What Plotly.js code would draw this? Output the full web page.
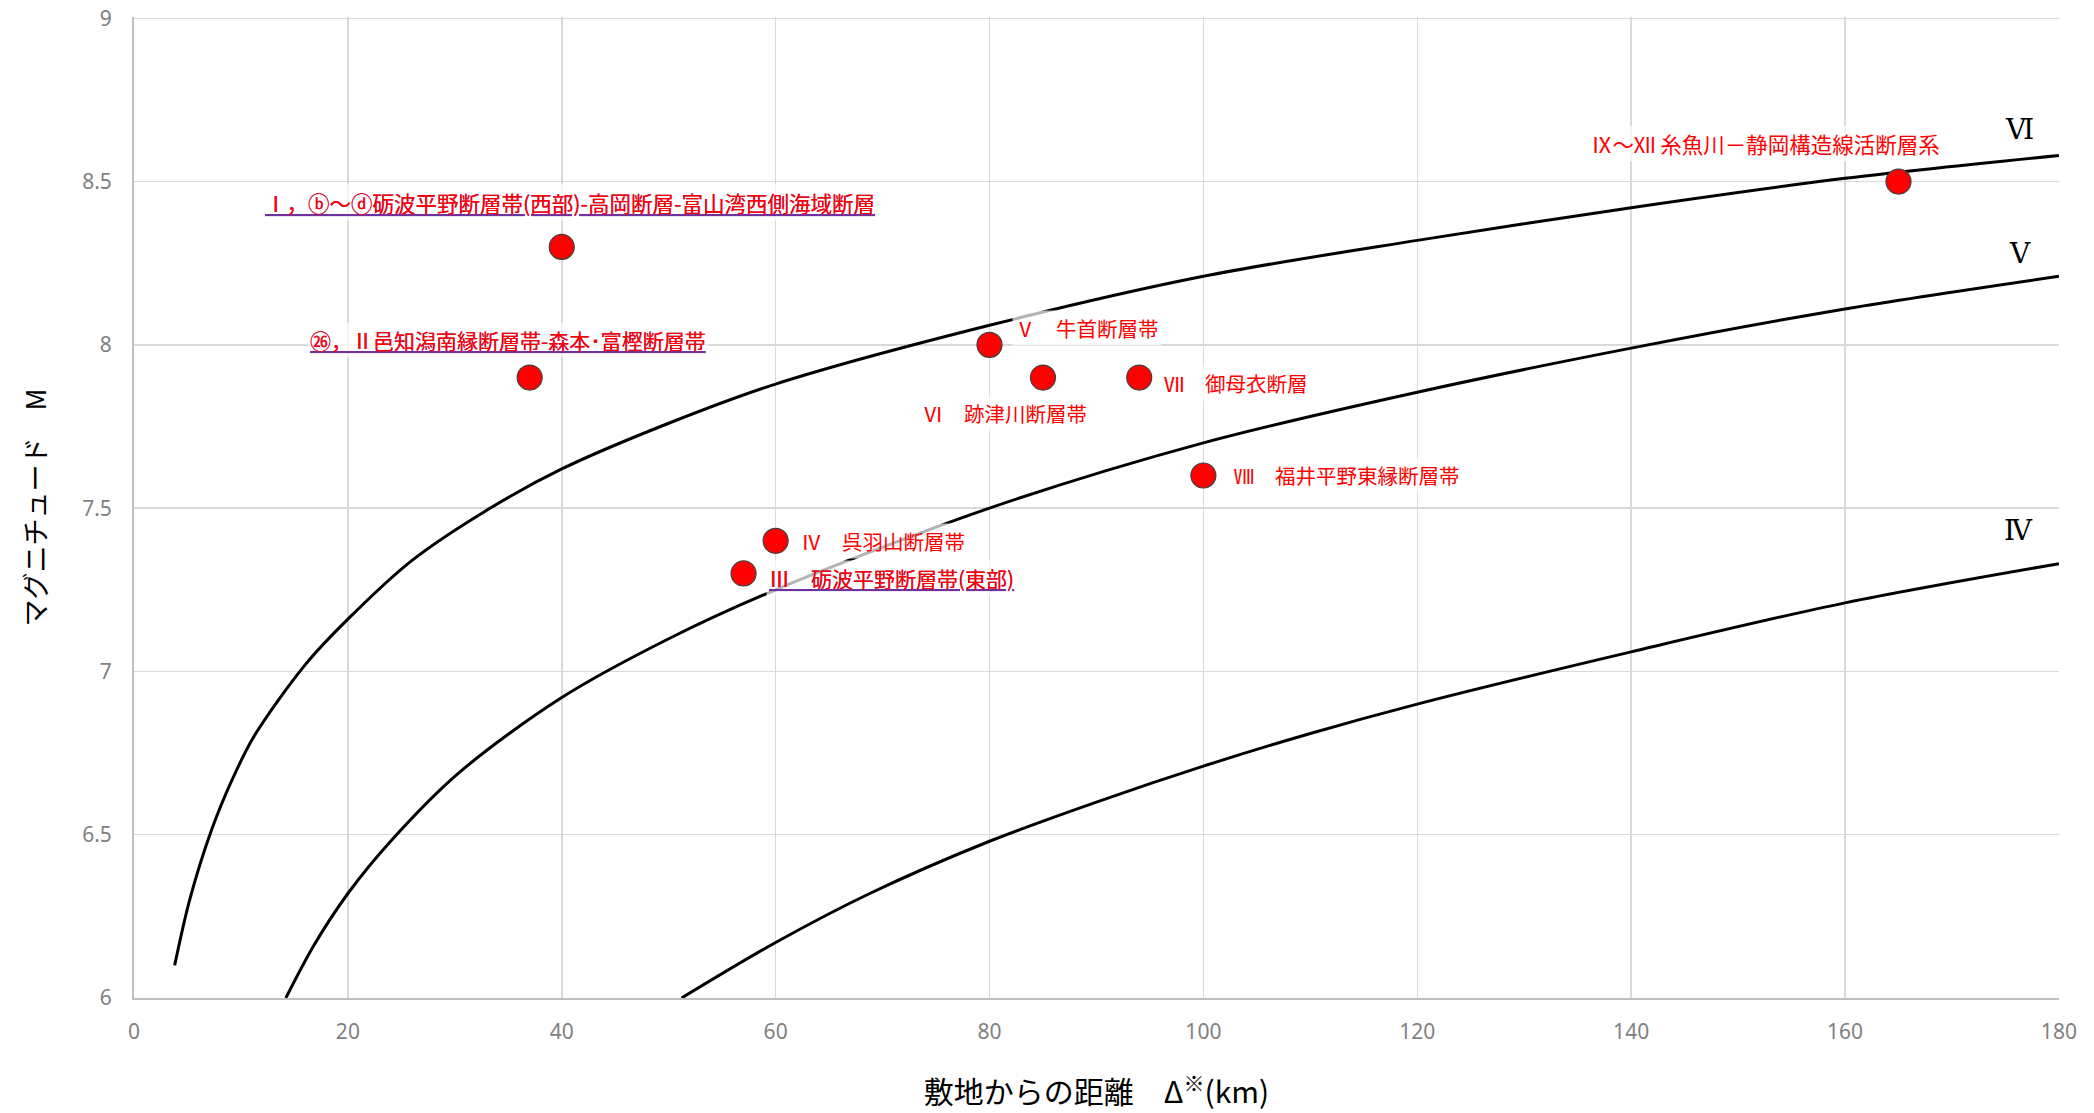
<!DOCTYPE html>
<html>
<head>
<meta charset="utf-8">
<script src="https://cdn.plot.ly/plotly-3.0.1.min.js"></script>
<style>html,body{margin:0;padding:0;background:#fff;}#chart{width:2094px;height:1113px;}</style>
</head>
<body>
<div id="chart"></div>
<script>
// ---- Data ----
// Intensity boundary curves (distance km, magnitude M)
const curveVI_x = [3.8, 5.2, 7.2, 9.2, 11.2, 16.0, 20.0, 26.0, 32.8, 40.0, 50.0, 60.0, 80.0, 100.0, 120.0, 140.0, 160.0, 180];
const curveVI_y = [6.10, 6.30, 6.51, 6.67, 6.80, 7.02, 7.16, 7.34, 7.49, 7.62, 7.76, 7.88, 8.06, 8.21, 8.32, 8.42, 8.51, 8.58];
const curveV_x = [14.2, 16.8, 20.0, 24.0, 30.4, 40.0, 50.0, 60.0, 80.0, 100.0, 120.0, 140.0, 160.0, 180];
const curveV_y = [6.00, 6.16, 6.32, 6.48, 6.69, 6.92, 7.10, 7.25, 7.50, 7.70, 7.855, 7.99, 8.11, 8.21];
const curveIV_x = [51.2, 60.0, 68.8, 80.0, 90.0, 100.0, 110.0, 120.0, 140.0, 160.0, 180];
const curveIV_y = [6.00, 6.17, 6.32, 6.48, 6.60, 6.71, 6.81, 6.90, 7.06, 7.21, 7.33];
const curveNames = ["Ⅵ", "Ⅴ", "Ⅳ"];

// Active faults (distance, magnitude, label)
const faultDist = [40, 37, 57, 60, 80, 85, 94, 100, 165];
const faultMag = [8.3, 7.9, 7.3, 7.4, 8.0, 7.9, 7.9, 7.6, 8.5];
const faultLabels = [
  "Ⅰ，ⓑ～ⓓ砺波平野断層帯(西部)-高岡断層-富山湾西側海域断層",
  "㉖，Ⅱ邑知潟南縁断層帯-森本･富樫断層帯",
  "Ⅲ　砺波平野断層帯(東部)",
  "Ⅳ　呉羽山断層帯",
  "Ⅴ　牛首断層帯",
  "Ⅵ　跡津川断層帯",
  "Ⅶ　御母衣断層",
  "Ⅷ　福井平野東縁断層帯",
  "Ⅸ～Ⅻ 糸魚川－静岡構造線活断層系"
];

const xTickVals = [0, 20, 40, 60, 80, 100, 120, 140, 160, 180];
const yTickVals = [6, 6.5, 7, 7.5, 8, 8.5, 9];

const xTitle = "敷地からの距離　Δ<sup>※</sup>(km)";
const yTitle = "マグニチュード　M";

// ---- Styling / label placement (pixels relative to each point) ----
const JP = '"Noto Sans CJK JP", "Noto Sans", sans-serif';
const labelStyle = [
  {anchor: 'center', dx: 8,   dy: 44,  ul: true,  size: 21.5},
  {anchor: 'center', dx: -22, dy: 38,  ul: true,  size: 21},
  {anchor: 'left',   dx: 22,  dy: -5,  ul: true,  size: 21},
  {anchor: 'left',   dx: 22,  dy: 0,   ul: false, size: 20.5},
  {anchor: 'left',   dx: 22,  dy: 17,  ul: false, size: 20.5},
  {anchor: 'center', dx: -38, dy: -35, ul: false, size: 20.5},
  {anchor: 'left',   dx: 22,  dy: -5,  ul: false, size: 20.5},
  {anchor: 'left',   dx: 28,  dy: 1,   ul: false, size: 20.5},
  {anchor: 'center', dx: -133, dy: 38, ul: false, size: 21.5}
];
const curveLabelShift = [{dx: -39, dy: 26}, {dx: -39, dy: 23}, {dx: -40, dy: 33}];

const curveStyle = {color: '#000000', width: 3, shape: 'spline', smoothing: 0.9};
const traces = [
  {x: curveVI_x, y: curveVI_y, mode: 'lines', line: curveStyle, hoverinfo: 'skip'},
  {x: curveV_x, y: curveV_y, mode: 'lines', line: curveStyle, hoverinfo: 'skip'},
  {x: curveIV_x, y: curveIV_y, mode: 'lines', line: curveStyle, hoverinfo: 'skip'},
  {x: faultDist, y: faultMag, mode: 'markers',
   marker: {size: 25, color: '#FF0000', line: {color: '#404040', width: 1.2}}}
];

const annotations = [];
faultLabels.forEach((t, i) => {
  const s = labelStyle[i];
  const base = {
    x: faultDist[i], y: faultMag[i], xref: 'x', yref: 'y',
    xanchor: s.anchor, yanchor: 'middle', xshift: s.dx, yshift: s.dy,
    showarrow: false, text: t, borderpad: 2
  };
  if (s.ul) {
    annotations.push(Object.assign({}, base, {
      font: {family: JP, size: s.size, color: '#7030A0', lineposition: 'under'},
      bgcolor: 'rgba(255,255,255,0.7)'
    }));
    annotations.push(Object.assign({}, base, {
      font: {family: JP, size: s.size, color: '#FF0000'}
    }));
  } else {
    annotations.push(Object.assign({}, base, {
      font: {family: JP, size: s.size, color: '#FF0000'},
      bgcolor: 'rgba(255,255,255,0.7)'
    }));
  }
});
const curveEnds = [
  [curveVI_x, curveVI_y], [curveV_x, curveV_y], [curveIV_x, curveIV_y]
];
curveNames.forEach((n, i) => {
  const xs = curveEnds[i][0], ys = curveEnds[i][1];
  annotations.push({
    x: xs[xs.length - 1], y: ys[ys.length - 1], xref: 'x', yref: 'y',
    xanchor: 'center', yanchor: 'middle',
    xshift: curveLabelShift[i].dx, yshift: curveLabelShift[i].dy,
    showarrow: false, text: n,
    font: {family: '"DejaVu Serif", "Liberation Serif", serif', size: 28, color: '#000000'}
  });
});

const tickFont = {family: '"Noto Sans", "Open Sans", sans-serif', size: 21, color: '#7f7f7f'};
const layout = {
  width: 2094, height: 1113,
  margin: {l: 134, r: 35, t: 17, b: 115},
  paper_bgcolor: '#ffffff', plot_bgcolor: '#ffffff',
  showlegend: false,
  xaxis: {
    range: [0, 180.01], tickmode: 'array', tickvals: xTickVals, ticktext: xTickVals.map(String),
    showgrid: true, gridcolor: '#d9d9d9', gridwidth: 1.5,
    showline: true, linecolor: '#bfbfbf', linewidth: 2,
    zeroline: false, ticks: '', tickfont: tickFont, ticklabelstandoff: 14,
    ticklabeloverflow: 'allow',
    title: {text: xTitle, font: {family: JP, size: 30, color: '#000000'}, standoff: 38}
  },
  yaxis: {
    range: [6, 9.004], tickmode: 'array', tickvals: yTickVals, ticktext: yTickVals.map(String),
    showgrid: true, gridcolor: '#d9d9d9', gridwidth: 1.5,
    showline: true, linecolor: '#bfbfbf', linewidth: 2,
    zeroline: false, ticks: '', tickfont: tickFont, ticklabelstandoff: 16,
    ticklabeloverflow: 'allow',
    title: {text: yTitle, font: {family: JP, size: 27, color: '#000000'}, standoff: 28}
  },
  annotations: annotations
};

Plotly.newPlot('chart', traces, layout, {displayModeBar: false, staticPlot: true});
</script>
</body>
</html>
